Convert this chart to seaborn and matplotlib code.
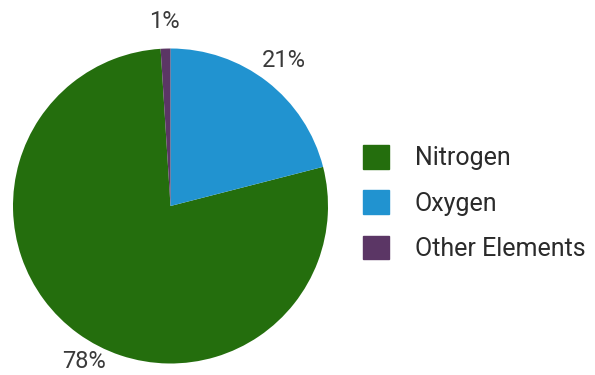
import matplotlib.pyplot as plt
import matplotlib.patches as mpatches
import matplotlib.transforms as mtransforms
import seaborn as sns

elements = ["Nitrogen", "Oxygen", "Other Elements"]
shares = [78, 21, 1]
pct_labels = ["78%", "21%", "1%"]
colors = ["#246e0d", "#2193d0", "#5b3665"]

sns.set_style("white")
plt.rcParams["font.family"] = ["Roboto", "DejaVu Sans"]

fig = plt.figure(figsize=(5.95, 3.75), dpi=100)
ax = fig.add_axes([(170.5 - 157.5) / 595, (375 - 206 - 157.5) / 375, 315 / 595, 315 / 375])
wedges, texts = ax.pie(shares, labels=pct_labels, colors=colors, startangle=93.6,
                       counterclock=True, labeldistance=1.17,
                       wedgeprops={"linewidth": 0},
                       textprops={"fontsize": 17, "color": "#3a3a3a"})
for t in texts:
    t.set_ha("center")
    t.set_va("center")
# bottom-left label sits a little further round the edge in the original
texts[0].set_ha("left")
texts[0].set_transform(mtransforms.offset_copy(ax.transData, fig=fig, x=0, y=-4.5, units="points"))
ax.set_xlim(-1, 1)
ax.set_ylim(-1, 1)
ax.set_aspect("equal")

handles = [mpatches.Patch(color=c, label=e) for c, e in zip(colors, elements)]
fig.legend(handles=handles, loc="center left", bbox_to_anchor=(340 / 595, 1 - 203 / 375),
           frameon=False, prop={"size": 18}, handlelength=1.05,
           handleheight=1.05, handletextpad=1.05, labelspacing=0.8, labelcolor="#2a2a2a")

plt.savefig("out.png", dpi=100)
